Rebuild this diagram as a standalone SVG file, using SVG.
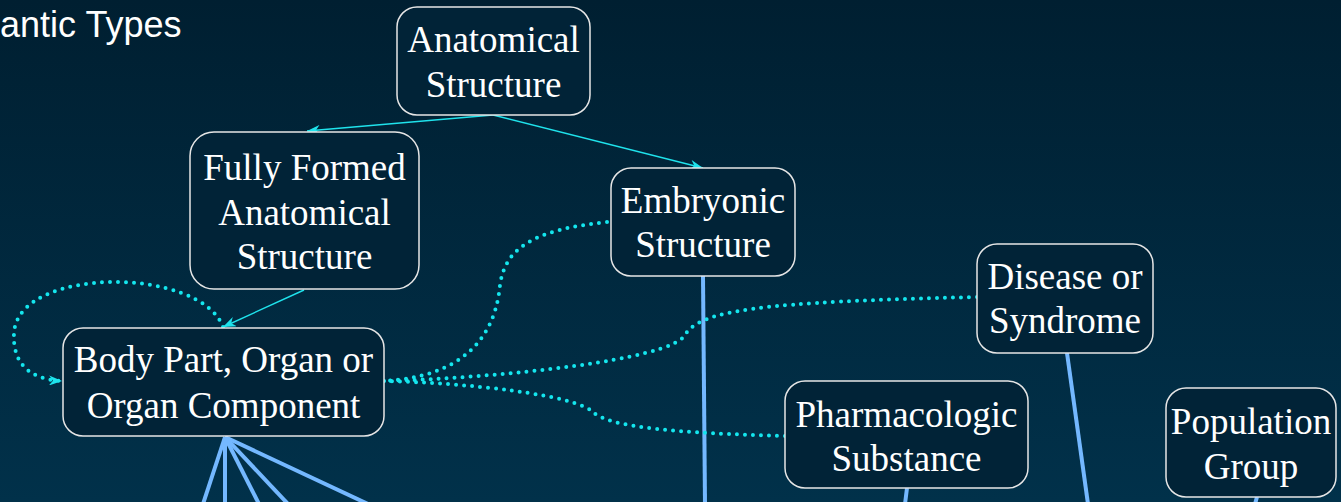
<svg xmlns="http://www.w3.org/2000/svg" width="1341" height="502" viewBox="0 0 1341 502">
<defs>
<linearGradient id="bg" x1="0" y1="0" x2="0" y2="1">
<stop offset="0" stop-color="#001f31"/>
<stop offset="1" stop-color="#01314a"/>
</linearGradient>
<marker id="arr" markerUnits="userSpaceOnUse" markerWidth="14" markerHeight="10" refX="13" refY="5" orient="auto">
<path d="M0,0 L13,5 L0,10 L4,5 z" fill="#1fe3ec"/>
</marker>
<style>
.node rect{fill:#012337;stroke:#e6e6e6;stroke-width:1.5}
.node text{font-family:"Liberation Serif","Times New Roman",serif;font-size:37px;fill:#ffffff;text-anchor:middle}
.solid{fill:none;stroke:#1fe3ec;stroke-width:1.4}
.dot{fill:none;stroke:#14e6ee;stroke-width:4;stroke-linecap:round;stroke-dasharray:0 8}
.blue{fill:none;stroke:#74b8ff;stroke-width:4}
.title{font-family:"Liberation Sans",Arial,sans-serif;font-size:36px;fill:#ffffff}
</style>
</defs>
<rect x="0" y="0" width="1341" height="502" fill="url(#bg)"/>
<text class="title" x="0" y="37">antic Types</text>

<g id="connectors">
<line class="blue" x1="225" y1="437" x2="203" y2="504"/>
<line class="blue" x1="225" y1="437" x2="225" y2="504"/>
<line class="blue" x1="225" y1="437" x2="259" y2="504"/>
<line class="blue" x1="225" y1="437" x2="288" y2="504"/>
<line class="blue" x1="225" y1="437" x2="368" y2="504"/>
<line class="blue" x1="703" y1="276" x2="705" y2="504"/>
<line class="blue" x1="1067" y1="353" x2="1088" y2="504"/>
<line class="blue" x1="907" y1="488" x2="905" y2="504"/>
<line class="blue" x1="1257" y1="497" x2="1255" y2="504"/>
<line class="solid" x1="493" y1="115" x2="307" y2="131" marker-end="url(#arr)"/>
<line class="solid" x1="493" y1="115" x2="703" y2="168" marker-end="url(#arr)"/>
<line class="solid" x1="304" y1="290" x2="223" y2="327" marker-end="url(#arr)"/>
<path class="dot" d="M223,327 C200,266 18,266 14,333 C12,370 38,380 62,381" marker-end="url(#arr)"/>
<path class="dot" d="M607,222 C530,230 505,250 500,285 C495,340 460,377 384,381"/>
<path class="dot" d="M977,297 C760,302 700,310 685,335 C670,360 500,378 384,381"/>
<path class="dot" d="M785,436 C680,433 610,428 593,412 C575,395 470,383 384,381"/>
</g>

<g id="anatomical-structure" class="node">
<rect x="397" y="7" width="193" height="108" rx="20"/>
<text x="493.5" y="52">Anatomical</text>
<text x="493.5" y="97">Structure</text>
</g>
<g id="fully-formed" class="node">
<rect x="190" y="132" width="229" height="157" rx="24"/>
<text x="304.5" y="180">Fully Formed</text>
<text x="304.5" y="225">Anatomical</text>
<text x="304.5" y="269">Structure</text>
</g>
<g id="embryonic-structure" class="node">
<rect x="611" y="168" width="184" height="108" rx="20"/>
<text x="703" y="213">Embryonic</text>
<text x="703" y="257">Structure</text>
</g>
<g id="body-part" class="node">
<rect x="63" y="328" width="321" height="108" rx="20"/>
<text x="223.5" y="372">Body Part, Organ or</text>
<text x="223.5" y="418">Organ Component</text>
</g>
<g id="disease-or-syndrome" class="node">
<rect x="977" y="244" width="176" height="109" rx="20"/>
<text x="1065" y="289">Disease or</text>
<text x="1065" y="333">Syndrome</text>
</g>
<g id="pharmacologic-substance" class="node">
<rect x="785" y="381" width="243" height="107" rx="20"/>
<text x="906.5" y="427">Pharmacologic</text>
<text x="906.5" y="471">Substance</text>
</g>
<g id="population-group" class="node">
<rect x="1166" y="388" width="170" height="109" rx="20"/>
<text x="1251" y="434">Population</text>
<text x="1251" y="479">Group</text>
</g>
</svg>
